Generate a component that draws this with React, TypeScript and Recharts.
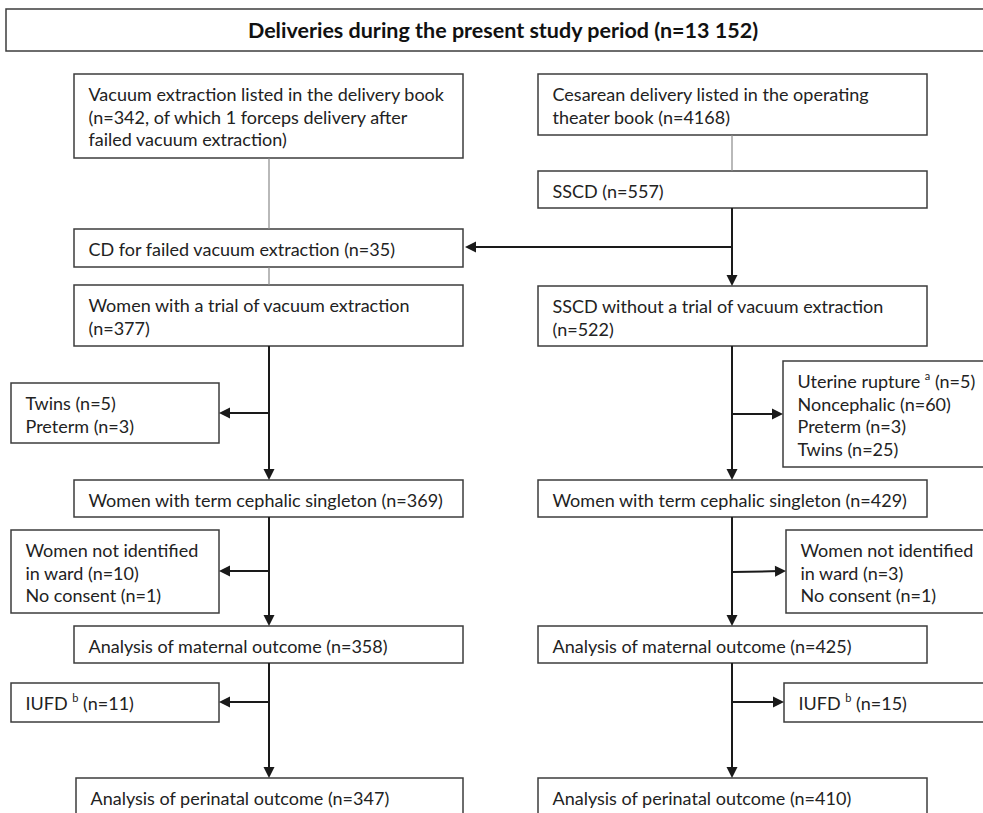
import React from 'react';
import { ComposedChart, XAxis, YAxis, ReferenceArea, ReferenceLine, ReferenceDot } from 'recharts';

const W = 983;
const H = 813;
const FONT = 'Lato, "Open Sans", sans-serif';

const TITLE = 'Deliveries during the present study period (n=13 152)';

// text of every box, line by line ("^x" marks a superscript)
const boxLines: string[][] = [
  ['Vacuum extraction listed in the delivery book', '(n=342, of which 1 forceps delivery after', 'failed vacuum extraction)'],
  ['Cesarean delivery listed in the operating', 'theater book (n=4168)'],
  ['SSCD (n=557)'],
  ['CD for failed vacuum extraction (n=35)'],
  ['Women with a trial of vacuum extraction', '(n=377)'],
  ['SSCD without a trial of vacuum extraction', '(n=522)'],
  ['Twins (n=5)', 'Preterm (n=3)'],
  ['Uterine rupture ^a (n=5)', 'Noncephalic (n=60)', 'Preterm (n=3)', 'Twins (n=25)'],
  ['Women with term cephalic singleton (n=369)'],
  ['Women with term cephalic singleton (n=429)'],
  ['Women not identified', 'in ward (n=10)', 'No consent (n=1)'],
  ['Women not identified', 'in ward (n=3)', 'No consent (n=1)'],
  ['Analysis of maternal outcome (n=358)'],
  ['Analysis of maternal outcome (n=425)'],
  ['IUFD ^b (n=11)'],
  ['IUFD ^b (n=15)'],
  ['Analysis of perinatal outcome (n=347)'],
  ['Analysis of perinatal outcome (n=410)'],
];

// layout: [x1, x2, y1, y2] per box, same order as boxLines
const boxRects: number[][] = [
  [74, 463, 74, 158],
  [538, 927, 74, 135],
  [538, 927, 171, 208],
  [74, 463, 229, 267],
  [74, 463, 285, 346],
  [538, 927, 286, 346],
  [11, 219, 383, 443],
  [783, 995, 361, 467],
  [74, 463, 480, 517],
  [538, 927, 480, 517],
  [11, 219, 530, 613],
  [786, 995, 530, 613],
  [74, 463, 626, 663],
  [538, 927, 626, 663],
  [11, 219, 683, 722],
  [784, 995, 683, 722],
  [76, 463, 778, 830],
  [538, 927, 778, 830],
];
const titleRect = [6, 995, 9, 51];

// connectors: [x1, y1, x2, y2, arrow?]
const links: [number, number, number, number, boolean][] = [
  [269, 158, 269, 229, false],
  [732, 135, 732, 171, false],
  [269, 267, 269, 285, false],
  [732, 208, 732, 286, true],
  [732, 247, 465, 247, true],
  [269, 346, 269, 480, true],
  [269, 413, 219, 413, true],
  [732, 346, 732, 480, true],
  [732, 414, 783, 414, true],
  [269, 517, 269, 626, true],
  [269, 571, 219, 571, true],
  [732, 517, 732, 626, true],
  [732, 572, 786, 571, true],
  [269, 663, 269, 778, true],
  [269, 702, 219, 702, true],
  [732, 663, 732, 778, true],
  [732, 702, 784, 702, true],
];

function renderLine(line: string) {
  const m = line.match(/^(.*?)\^(\w)(.*)$/);
  if (!m) return line;
  return [
    <tspan key="a">{m[1]}</tspan>,
    <tspan key="b" fontSize={11} dy={-6}>{m[2]}</tspan>,
    <tspan key="c" dy={6}>{m[3]}</tspan>,
  ];
}

function boxShape(lines: string[]) {
  return (p: any) => (
    <g>
      <rect x={p.x} y={p.y} width={p.width} height={p.height} fill="#fff" stroke="#3c3c3c" strokeWidth={1.5} />
      {lines.map((ln, i) => (
        <text key={i} x={p.x + 14.5} y={p.y + 20 + i * 22.7} dominantBaseline="central" fontFamily={FONT} fontSize={18} fill="#222">
          {renderLine(ln)}
        </text>
      ))}
    </g>
  );
}

const titleShape = (p: any) => (
  <g>
    <rect x={p.x} y={p.y} width={p.width} height={p.height} fill="#fff" stroke="#3c3c3c" strokeWidth={1.5} />
    <text x={503} y={p.y + p.height / 2} textAnchor="middle" dominantBaseline="central" fontFamily={FONT} fontSize={21.5} fontWeight="bold" fill="#111">
      {TITLE}
    </text>
  </g>
);

function arrowHead(dx: number, dy: number) {
  return (p: any) => {
    const { cx, cy } = p;
    const L = 11;
    const hw = 5.5;
    const len = Math.hypot(dx, dy) || 1;
    const ux = dx / len;
    const uy = dy / len;
    const bx = cx - ux * L;
    const by = cy - uy * L;
    const pts = `${cx},${cy} ${bx - uy * hw},${by + ux * hw} ${bx + uy * hw},${by - ux * hw}`;
    return <polygon points={pts} fill="#1a1a1a" />;
  };
}

export default function App() {
  return (
    <div style={{ position: 'absolute', left: 0, top: 0, width: W, height: H, overflow: 'hidden', background: '#fff' }}>
      <ComposedChart width={W} height={H} margin={{ top: 0, right: 0, bottom: 0, left: 0 }}>
        <XAxis type="number" dataKey="x" domain={[0, W]} hide allowDataOverflow />
        <YAxis type="number" dataKey="y" domain={[0, H]} reversed hide allowDataOverflow />
        <ReferenceArea x1={titleRect[0]} x2={titleRect[1]} y1={titleRect[2]} y2={titleRect[3]} ifOverflow="visible" shape={titleShape} />
        {links.map(([x1, y1, x2, y2, arrow], i) => {
          const len = Math.hypot(x2 - x1, y2 - y1);
          const cut = arrow ? 6 / len : 0;
          const ex = x2 - (x2 - x1) * cut;
          const ey = y2 - (y2 - y1) * cut;
          return (
            <ReferenceLine
              key={`l${i}`}
              segment={[{ x: x1, y: y1 }, { x: ex, y: ey }]}
              stroke={arrow ? '#1a1a1a' : '#8a8a8a'}
              strokeWidth={arrow ? 2 : 1.2}
              ifOverflow="visible"
            />
          );
        })}
        {links.filter((l) => l[4]).map(([x1, y1, x2, y2], i) => (
          <ReferenceDot key={`a${i}`} x={x2} y={y2} r={6} ifOverflow="visible" shape={arrowHead(x2 - x1, y2 - y1)} />
        ))}
        {boxRects.map((r, i) => (
          <ReferenceArea key={`b${i}`} x1={r[0]} x2={r[1]} y1={r[2]} y2={r[3]} ifOverflow="visible" shape={boxShape(boxLines[i])} />
        ))}
      </ComposedChart>
    </div>
  );
}
